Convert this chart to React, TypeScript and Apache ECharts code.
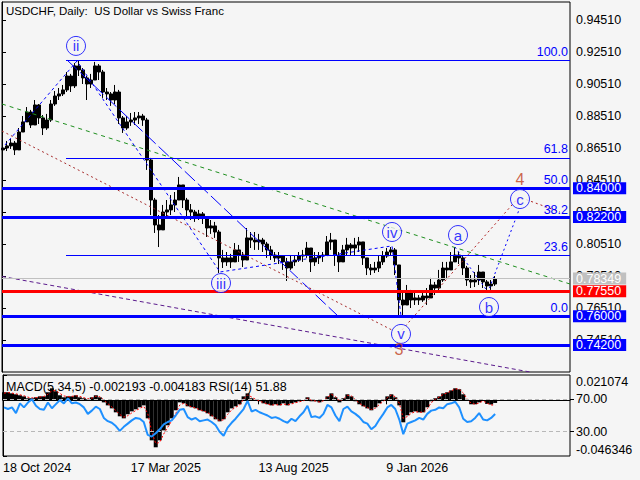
import React, { useEffect, useRef } from "react";
import * as echarts from "echarts";

const FONT = "'Liberation Sans', Arial, sans-serif";
const BG = "#f5f5f5";

// each sample represents 4 daily bars; bar index of sample k = 1 + 4k
const BAR_STEP = 4;
const BAR_OFFSET = 1;

// [open, close, low, high]
const candles: number[][] = [
  [0.8639,0.8651,0.8626,0.8676],[0.8651,0.8664,0.8632,0.8695],[0.8664,0.8682,0.8645,0.8707],[0.8682,0.8639,0.8607,0.8695],
  [0.8639,0.8751,0.8639,0.8776],[0.8751,0.8814,0.8751,0.8851],[0.8814,0.8876,0.8814,0.8907],[0.8876,0.8795,0.8776,0.8889],
  [0.8795,0.8920,0.8795,0.8951],[0.8920,0.8839,0.8801,0.8926],[0.8839,0.8776,0.8732,0.8857],[0.8776,0.8826,0.8764,0.8864],
  [0.8826,0.8926,0.8814,0.8951],[0.8926,0.8976,0.8914,0.9007],[0.8976,0.8989,0.8951,0.9026],[0.8989,0.9014,0.8976,0.9045],
  [0.9014,0.9101,0.9001,0.9126],[0.9101,0.9039,0.9001,0.9114],[0.9039,0.9164,0.9026,0.9182],[0.9164,0.9139,0.9101,0.9195],
  [0.9139,0.9089,0.9051,0.9151],[0.9089,0.9051,0.8951,0.9101],[0.9051,0.9076,0.9026,0.9114],[0.9076,0.9164,0.9076,0.9189],
  [0.9164,0.9126,0.9076,0.9176],[0.9126,0.9001,0.8964,0.9139],[0.9001,0.8989,0.8951,0.9026],[0.8989,0.8951,0.8914,0.9001],
  [0.8951,0.9001,0.8926,0.9045],[0.9001,0.8839,0.8801,0.9014],[0.8839,0.8776,0.8745,0.8851],[0.8776,0.8814,0.8764,0.8851],
  [0.8814,0.8826,0.8789,0.8870],[0.8826,0.8839,0.8795,0.8876],[0.8839,0.8851,0.8801,0.8876],[0.8851,0.8826,0.8789,0.8864],
  [0.8826,0.8576,0.8514,0.8839],[0.8576,0.8326,0.8232,0.8589],[0.8326,0.8170,0.8120,0.8339],[0.8170,0.8139,0.8032,0.8232],
  [0.8139,0.8251,0.8139,0.8295],[0.8251,0.8264,0.8214,0.8326],[0.8264,0.8295,0.8232,0.8357],[0.8295,0.8326,0.8251,0.8376],
  [0.8326,0.8420,0.8326,0.8470],[0.8420,0.8326,0.8276,0.8420],[0.8326,0.8264,0.8214,0.8339],[0.8264,0.8251,0.8201,0.8301],
  [0.8251,0.8226,0.8189,0.8264],[0.8226,0.8239,0.8201,0.8264],[0.8239,0.8214,0.8176,0.8251],[0.8214,0.8151,0.8095,0.8226],
  [0.8151,0.8164,0.8114,0.8201],[0.8164,0.8126,0.8089,0.8189],[0.8126,0.7964,0.7870,0.8139],[0.7964,0.7939,0.7901,0.8014],
  [0.7939,0.7964,0.7914,0.8001],[0.7964,0.7939,0.7901,0.7989],[0.7939,0.8014,0.7939,0.8057],[0.8014,0.7982,0.7939,0.8045],
  [0.7982,0.7951,0.7907,0.8001],[0.7951,0.8089,0.7951,0.8151],[0.8089,0.8076,0.8026,0.8126],[0.8076,0.8064,0.8014,0.8126],
  [0.8064,0.8076,0.8014,0.8114],[0.8076,0.8051,0.8001,0.8089],[0.8051,0.8014,0.7964,0.8064],[0.8014,0.7982,0.7951,0.8039],
  [0.7982,0.7964,0.7939,0.8001],[0.7964,0.7976,0.7926,0.8001],[0.7976,0.7939,0.7889,0.7982],[0.7939,0.7901,0.7820,0.7964],
  [0.7901,0.7939,0.7889,0.7982],[0.7939,0.7951,0.7914,0.7982],[0.7951,0.7976,0.7939,0.8001],[0.7976,0.7982,0.7939,0.8014],
  [0.7982,0.8026,0.7964,0.8064],[0.8026,0.7939,0.7876,0.8026],[0.7939,0.7964,0.7914,0.8001],[0.7964,0.7976,0.7926,0.8001],
  [0.7976,0.7982,0.7939,0.8001],[0.7982,0.8064,0.7982,0.8101],[0.8064,0.8076,0.8014,0.8120],[0.8076,0.7982,0.7914,0.8076],
  [0.7982,0.7939,0.7876,0.8001],[0.7939,0.8014,0.7939,0.8045],[0.8014,0.8045,0.7982,0.8089],[0.8045,0.8026,0.7982,0.8057],
  [0.8026,0.8045,0.7982,0.8089],[0.8045,0.8064,0.8001,0.8095],[0.8064,0.7964,0.7920,0.8064],[0.7964,0.7901,0.7857,0.7964],
  [0.7901,0.7889,0.7857,0.7926],[0.7889,0.7901,0.7870,0.7939],[0.7901,0.7939,0.7876,0.7976],[0.7939,0.7976,0.7920,0.8007],
  [0.7976,0.8001,0.7964,0.8026],[0.8001,0.8014,0.7976,0.8032],[0.8014,0.7920,0.7857,0.8026],[0.7920,0.7701,0.7607,0.7920],
  [0.7701,0.7670,0.7601,0.7751],[0.7670,0.7751,0.7670,0.7795],[0.7751,0.7701,0.7651,0.7764],[0.7701,0.7714,0.7670,0.7745],
  [0.7714,0.7701,0.7670,0.7732],[0.7701,0.7726,0.7689,0.7751],[0.7726,0.7714,0.7670,0.7776],[0.7714,0.7795,0.7714,0.7839],
  [0.7795,0.7776,0.7732,0.7814],[0.7776,0.7826,0.7751,0.7889],[0.7826,0.7901,0.7814,0.7939],[0.7901,0.7889,0.7839,0.7939],
  [0.7889,0.7939,0.7889,0.8001],[0.7939,0.7982,0.7939,0.8032],[0.7982,0.7964,0.7926,0.8001],[0.7964,0.7901,0.7857,0.7976],
  [0.7901,0.7826,0.7789,0.7914],[0.7826,0.7814,0.7776,0.7857],[0.7814,0.7826,0.7782,0.7876],[0.7826,0.7876,0.7795,0.7920],
  [0.7876,0.7814,0.7776,0.7876],[0.7814,0.7789,0.7751,0.7826],[0.7789,0.7801,0.7764,0.7826],[0.7801,0.7835,0.7789,0.7851],
];

const macdHist = [
  0.0067,0.0067,0.0058,0.0050,0.0042,0.0033,0.0017,0.0017,0.0025,0.0033,
  0.0033,0.0067,0.0100,0.0075,0.0042,0.0025,0.0033,0.0033,0.0042,0.0025,
  0.0017,0.0008,0.0025,0.0042,0.0025,-0.0017,-0.0042,-0.0067,-0.0100,-0.0133,
  -0.0150,-0.0116,-0.0092,-0.0075,-0.0058,-0.0042,-0.0150,-0.0333,-0.0391,-0.0333,
  -0.0250,-0.0208,-0.0150,-0.0083,-0.0017,-0.0025,-0.0050,-0.0058,-0.0067,-0.0083,
  -0.0092,-0.0108,-0.0133,-0.0158,-0.0175,-0.0158,-0.0100,-0.0067,-0.0050,-0.0033,
  0.0033,0.0058,0.0017,0.0000,-0.0008,-0.0025,-0.0033,-0.0042,-0.0033,-0.0042,
  -0.0025,-0.0042,-0.0025,-0.0017,-0.0008,0.0000,0.0025,-0.0008,-0.0008,-0.0017,
  0.0000,0.0033,0.0058,0.0025,-0.0017,0.0017,0.0050,0.0033,-0.0008,-0.0033,
  -0.0050,-0.0067,-0.0083,-0.0058,-0.0025,0.0000,0.0033,0.0050,0.0025,-0.0042,
  -0.0183,-0.0125,-0.0100,-0.0092,-0.0100,-0.0100,-0.0058,-0.0008,0.0017,0.0033,
  0.0058,0.0067,0.0083,0.0100,0.0092,0.0050,0.0000,-0.0033,-0.0033,-0.0017,
  0.0000,-0.0030,-0.0035,-0.0022,
];

const macdSignal = [
  0.0060,0.0064,0.0060,0.0054,0.0046,0.0038,0.0026,0.0020,0.0022,0.0028,
  0.0032,0.0050,0.0080,0.0080,0.0058,0.0036,0.0032,0.0033,0.0038,0.0032,
  0.0022,0.0012,0.0018,0.0034,0.0030,0.0004,-0.0028,-0.0055,-0.0085,-0.0118,
  -0.0140,-0.0128,-0.0105,-0.0085,-0.0068,-0.0050,-0.0110,-0.0260,-0.0360,-0.0350,
  -0.0280,-0.0225,-0.0170,-0.0110,-0.0040,-0.0025,-0.0042,-0.0055,-0.0063,-0.0078,
  -0.0088,-0.0102,-0.0125,-0.0150,-0.0170,-0.0162,-0.0118,-0.0080,-0.0058,-0.0040,
  0.0010,0.0045,0.0028,0.0008,-0.0004,-0.0020,-0.0030,-0.0040,-0.0035,-0.0040,
  -0.0030,-0.0038,-0.0030,-0.0020,-0.0012,-0.0003,0.0018,0.0002,-0.0006,-0.0014,
  -0.0004,0.0025,0.0050,0.0032,-0.0005,0.0010,0.0042,0.0036,0.0005,-0.0025,
  -0.0045,-0.0060,-0.0077,-0.0065,-0.0035,-0.0008,0.0022,0.0044,0.0030,-0.0025,
  -0.0150,-0.0135,-0.0108,-0.0095,-0.0098,-0.0100,-0.0070,-0.0020,0.0008,0.0027,
  0.0050,0.0062,0.0078,0.0095,0.0094,0.0062,0.0012,-0.0025,-0.0032,-0.0022,
  -0.0005,-0.0025,-0.0038,-0.0042,
];

const rsi = [
  60,58,60,53,65,60,66,70,62,58,
  57,66,59,64,69,65,71,65,66,64,
  60,52,56,61,58,47,43,41,37,31,
  36,40,44,47,46,42,26,24,28,33,
  39,42,44,50,57,58,48,45,47,43,
  44,45,42,38,30,25,35,41,46,52,
  58,68,55,57,54,52,50,47,48,46,
  43,41,46,43,49,54,62,48,49,47,
  52,63,60,50,43,58,61,55,52,48,
  42,40,33,37,45,52,60,63,58,45,
  27,40,42,44,47,45,52,56,57,60,
  59,64,65,67,60,46,42,43,47,53,
  45,44,47,51.88,
];

const dateTicks = [0, 128, 256, 384];
const dateLabels = ["18 Oct 2024", "17 Mar 2025", "13 Aug 2025", "9 Jan 2026"];
const priceTicks = [0.7451, 0.7651, 0.7851, 0.8051, 0.8251, 0.8451, 0.8651, 0.8851, 0.9051, 0.9251, 0.9451];
const macdRange = [-0.046346, 0.021074];
const rsiLevels = [30, 70];

const blueLevels = [0.84, 0.822, 0.76, 0.742];
const redLevel = 0.7755;
const lastPrice = 0.78349;
const fibLow = 0.76;
const fibHigh = 0.92;
const fibRatios = [0, 23.6, 38.2, 50, 61.8, 100];
const fibStartBar = 64;
const LAST_BAR = 568;

// trend / wave lines: [bar, price]
const greenTrend = [[0, 0.8926], [568, 0.7801]];
const brownTrend = [[0, 0.8757], [392, 0.7507]];
const purpleTrend = [[0, 0.7848], [528, 0.7251]];
const channelLine = [[65, 0.9201], [336, 0.7601]];
const waveBlue1 = [[3, 0.867], [75, 0.9195], [218, 0.7876], [390, 0.8039], [399, 0.7601]];
const waveBlue2 = [[453, 0.8032], [486, 0.7751], [517, 0.8264]];
const waveRed = [[400, 0.7514], [517, 0.8345], [558, 0.8251]];

const waveNames = ["ii", "iii", "iv", "v", "a", "b", "c"];
const waveBars = [74, 219, 390, 399, 456, 487, 518];
const wavePrices = [0.9289, 0.7807, 0.8126, 0.7489, 0.8107, 0.7657, 0.8332];
const majorNames = ["4", "3"];
const majorBars = [518, 397];
const majorPrices = [0.8457, 0.7389];

const barOf = (k: number) => BAR_OFFSET + BAR_STEP * k;

function buildOption(): any {
  const txt = { fontFamily: FONT, fontSize: 12.5, color: "#000" };
  const boxLabel = (v: number, bg: string) => ({
    show: true,
    position: "end",
    formatter: v.toFixed(5),
    backgroundColor: bg,
    color: "#fff",
    fontFamily: FONT,
    fontSize: 12.5,
    lineHeight: 11,
    padding: [1, 5, 0, 3],
    distance: 3,
  });
  const levelLines: any[] = [];
  fibRatios.forEach((r) => {
    const p = fibLow + ((fibHigh - fibLow) * r) / 100;
    levelLines.push([
      {
        coord: [fibStartBar, p],
        lineStyle: { color: "#0000ff", width: 1, type: "solid" },
        label: {
          show: true,
          position: "insideEndTop",
          formatter: r.toFixed(1),
          color: "#0000ff",
          fontFamily: FONT,
          fontSize: 12.5,
          distance: [2, 2],
        },
      },
      { coord: [LAST_BAR, p] },
    ]);
  });
  levelLines.push({
    yAxis: lastPrice,
    lineStyle: { color: "#c0c0c0", width: 1, type: "solid" },
    label: boxLabel(lastPrice, "#c0c0c0"),
  });
  levelLines.push({
    yAxis: redLevel,
    lineStyle: { color: "#ff0000", width: 3, type: "solid" },
    label: boxLabel(redLevel, "#ff0000"),
  });
  blueLevels.forEach((v) =>
    levelLines.push({
      yAxis: v,
      lineStyle: { color: "#0000ff", width: 3, type: "solid" },
      label: boxLabel(v, "#0000ff"),
    })
  );

  const lineSeries = (data: number[][], color: string, type: any, z = 3) => ({
    type: "line",
    xAxisIndex: 0,
    yAxisIndex: 0,
    data,
    symbol: "none",
    silent: true,
    z,
    lineStyle: { color, width: 1, type },
  });

  return {
    animation: false,
    backgroundColor: BG,
    textStyle: { fontFamily: FONT },
    title: [
      {
        text: "USDCHF, Daily:  US Dollar vs Swiss Franc",
        left: 6,
        top: 5,
        padding: 0,
        textStyle: { fontFamily: FONT, fontSize: 11.5, fontWeight: "normal", color: "#000" },
      },
      {
        text: "MACD(5,34,5) -0.002193 -0.004183 RSI(14) 51.88",
        left: 6,
        top: 380,
        padding: 0,
        textStyle: { fontFamily: FONT, fontSize: 12.5, fontWeight: "normal", color: "#000" },
      },
    ],
    grid: [
      { left: 2, top: 2, width: 568, height: 370, show: true, borderColor: "#000", borderWidth: 1, backgroundColor: "transparent" },
      { left: 2, top: 375, width: 568, height: 81, show: true, borderColor: "#000", borderWidth: 1, backgroundColor: "transparent" },
    ],
    xAxis: [
      { type: "value", gridIndex: 0, min: 0, max: LAST_BAR, show: false },
      {
        type: "value",
        gridIndex: 1,
        min: 0,
        max: LAST_BAR,
        axisLine: { show: true, lineStyle: { color: "#000" } },
        axisTick: { show: true, inside: false, length: 4, customValues: dateTicks, lineStyle: { color: "#000" } },
        axisLabel: {
          show: true,
          customValues: dateTicks,
          formatter: (v: number) => {
            const i = dateTicks.indexOf(Math.round(v));
            return i >= 0 ? dateLabels[i] : "";
          },
          align: "left",
          margin: 5,
          ...txt,
        },
        splitLine: { show: false },
      },
    ],
    yAxis: [
      {
        type: "value",
        gridIndex: 0,
        position: "right",
        min: 0.7251,
        max: 0.95635,
        axisLine: { show: true, lineStyle: { color: "#000" } },
        axisTick: { show: true, length: 4, customValues: priceTicks, lineStyle: { color: "#000" } },
        axisLabel: { customValues: priceTicks, formatter: (v: number) => v.toFixed(5), margin: 6, ...txt },
        splitLine: { show: false },
      },
      {
        type: "value",
        gridIndex: 1,
        position: "right",
        min: macdRange[0],
        max: macdRange[1],
        axisLine: { show: true, lineStyle: { color: "#000" } },
        axisTick: { show: true, length: 4, customValues: macdRange, lineStyle: { color: "#000" } },
        axisLabel: {
          customValues: macdRange,
          formatter: (v: number) => v.toFixed(6),
          margin: 6,
          verticalAlignMinLabel: "bottom",
          verticalAlignMaxLabel: "top",
          ...txt,
        },
        splitLine: { show: false },
      },
      {
        type: "value",
        gridIndex: 1,
        position: "right",
        min: 0,
        max: 100,
        axisLine: { show: false },
        axisTick: { show: true, length: 4, customValues: rsiLevels, lineStyle: { color: "#000" } },
        axisLabel: { customValues: rsiLevels, formatter: (v: number) => v.toFixed(2), margin: 6, ...txt },
        splitLine: { show: false },
      },
    ],
    series: [
      {
        type: "candlestick",
        xAxisIndex: 0,
        yAxisIndex: 0,
        barWidth: 3,
        data: candles.map((c, k) => [barOf(k), c[0], c[1], c[2], c[3]]),
        encode: { x: 0, y: [1, 2, 3, 4] },
        itemStyle: { color: "#000", color0: "#000", borderColor: "#000", borderColor0: "#000", borderWidth: 1 },
        silent: true,
        z: 2,
        markLine: {
          silent: true,
          precision: 6,
          symbol: ["none", "none"],
          z: 5,
          data: levelLines,
        },
      },
      lineSeries(greenTrend, "#1f8f1f", [4, 4]),
      lineSeries(brownTrend, "#a52a2a", [2, 3]),
      lineSeries(purpleTrend, "#5a1a8c", [4, 3]),
      lineSeries(channelLine, "#0000ff", [14, 4]),
      lineSeries(waveBlue1, "#0000ff", [3, 3]),
      lineSeries(waveBlue2, "#0000ff", [2, 3]),
      lineSeries(waveRed, "#b02020", [2, 3]),
      {
        type: "scatter",
        xAxisIndex: 0,
        yAxisIndex: 0,
        symbol: "circle",
        symbolSize: 19,
        silent: true,
        z: 7,
        itemStyle: { color: BG, borderColor: "#0000ff", borderWidth: 1 },
        label: { show: true, position: "inside", formatter: "{b}", color: "#0000ff", fontFamily: FONT, fontSize: 15 },
        data: waveNames.map((n, i) => ({ name: n, value: [waveBars[i], wavePrices[i]] })),
      },
      {
        type: "scatter",
        xAxisIndex: 0,
        yAxisIndex: 0,
        symbol: "circle",
        symbolSize: 1,
        silent: true,
        z: 7,
        itemStyle: { color: "rgba(0,0,0,0)" },
        label: { show: true, position: "inside", formatter: "{b}", color: "#c0401a", fontFamily: FONT, fontSize: 16 },
        data: majorNames.map((n, i) => ({ name: n, value: [majorBars[i], majorPrices[i]] })),
      },
      {
        type: "bar",
        xAxisIndex: 1,
        yAxisIndex: 1,
        barWidth: 4,
        silent: true,
        itemStyle: { color: "#000" },
        data: macdHist.map((v, k) => [barOf(k), v]),
      },
      {
        type: "line",
        xAxisIndex: 1,
        yAxisIndex: 1,
        symbol: "none",
        silent: true,
        z: 4,
        lineStyle: { color: "#ff0000", width: 1, type: [2, 2] },
        data: macdSignal.map((v, k) => [barOf(k), v]),
      },
      {
        type: "line",
        xAxisIndex: 1,
        yAxisIndex: 2,
        symbol: "none",
        silent: true,
        z: 5,
        lineStyle: { color: "#1e90ff", width: 2 },
        data: rsi.map((v, k) => [barOf(k), v]),
        markLine: {
          silent: true,
          precision: 6,
          symbol: ["none", "none"],
          label: { show: false },
          lineStyle: { color: "#b8b8b8", width: 1, type: [4, 3] },
          data: rsiLevels.map((v) => ({ yAxis: v })),
        },
      },
    ],
  };
}

export default function App() {
  const ref = useRef<HTMLDivElement>(null);
  useEffect(() => {
    if (!ref.current) return;
    const chart = echarts.init(ref.current, null, { renderer: "svg" });
    chart.setOption(buildOption());
    return () => chart.dispose();
  }, []);
  return (
    <div
      ref={ref}
      style={{ position: "fixed", left: 0, top: 0, width: 640, height: 480, background: BG }}
    />
  );
}
